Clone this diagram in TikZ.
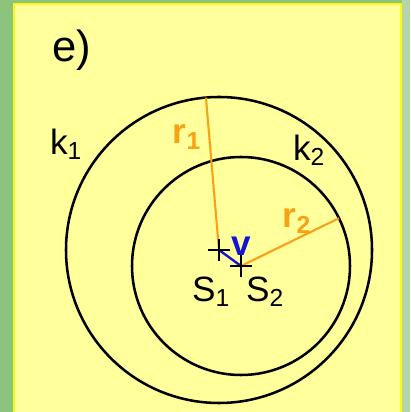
\documentclass[tikz,border=0pt]{standalone}
\usepackage{fontspec}
\setmainfont{Liberation Sans}
\usetikzlibrary{positioning, calc}
\definecolor{bggreen}{RGB}{140,195,125}
\definecolor{bgpale}{RGB}{182,214,170}
\definecolor{panelfill}{RGB}{255,255,155}
\definecolor{panelline}{RGB}{250,250,20}
\definecolor{radorange}{RGB}{250,160,20}
\definecolor{vecblue}{RGB}{20,20,215}
\tikzset{
  CIR/.style={draw=black,line width=1.8pt},
  RAD/.style={draw=radorange,line width=1.5pt},
  VEC/.style={draw=vecblue,line width=1.7pt},
  CR/.style={draw=black,line width=1.5pt},
  lbl/.style={font=\fontsize{25}{28}\selectfont,inner sep=0pt},
  rlbl/.style={lbl,font=\fontsize{25}{28}\selectfont\bfseries,text=radorange},
}
\newcommand{\crossat}[1]{\draw[CR]($(#1)+(-11,0)$)--($(#1)+(11,0)$) ($(#1)+(0,-11)$)--($(#1)+(0,11)$);}

\begin{document}
\begin{tikzpicture}[x=0.025cm,y=0.025cm]

% background and panel
\fill[bggreen] (0,0) rectangle (410,412);
\fill[bgpale] (402,0) rectangle (410,412);
\useasboundingbox (0,0) rectangle (410,412);
\draw[panelline,fill=panelfill,line width=1.5pt] (14,-2) rectangle (401,408);

% centres and radius ends
\coordinate (s1) at (219,162);
\coordinate (s2) at (241,146);
\coordinate (r1end) at ($(s1)+(94.9:153)$);
\coordinate (r2end) at ($(s2)+(26:109)$);

% circles
\draw[CIR] (s1) circle (153);
\draw[CIR] (s2) circle (109);

% radii and vector
\draw[RAD] (s1)--(r1end);
\draw[RAD] (s2)--(r2end);
\draw[VEC] (s1)--(s2);

% centre marks
\crossat{s1}
\crossat{s2}

% labels
\node[lbl,font=\fontsize{31}{34}\selectfont] (title) at (72,362) {e)};
\node[lbl] (k1) at (66,268) {k\textsubscript{1}};
\node[lbl] (k2) at (309,262) {k\textsubscript{2}};
\node[rlbl] (r1) at (187,275) {r\textsubscript{1}};
\node[rlbl] (r2) at (297,191) {r\textsubscript{2}};
\node[lbl,font=\fontsize{25}{28}\selectfont\bfseries,text=vecblue] (v) at (241,166) {v};
\node[lbl] (s1lbl) at (211,120) {S\textsubscript{1}};
\node[lbl] (s2lbl) at (265,120) {S\textsubscript{2}};

\end{tikzpicture}
\end{document}
